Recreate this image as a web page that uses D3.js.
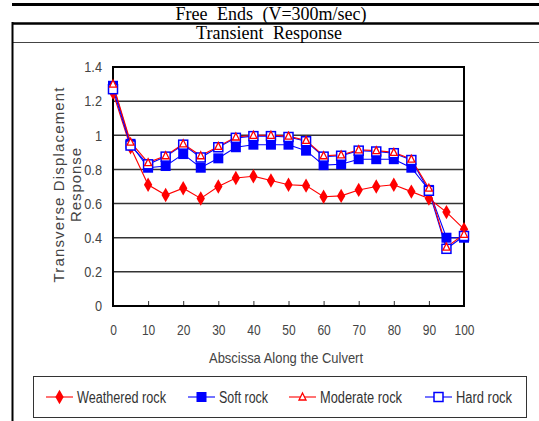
<!DOCTYPE html>
<html>
<head>
<meta charset="utf-8">
<script src="https://cdn.jsdelivr.net/npm/d3@7"></script>
<style>
  body { margin: 0; background: #fff; }
  svg { display: block; }
</style>
</head>
<body>
<div id="chart"></div>
<script>
// abscissa along the culvert
const xs = [0, 5, 10, 15, 20, 25, 30, 35, 40, 45, 50, 55, 60, 65, 70, 75, 80, 85, 90, 95, 100];

const weathered = [1.25, 0.93, 0.71, 0.65, 0.69, 0.63, 0.70, 0.75, 0.76, 0.735, 0.71, 0.705, 0.64, 0.645, 0.68, 0.70, 0.71, 0.67, 0.63, 0.55, 0.45];
const soft      = [1.29, 0.95, 0.81, 0.82, 0.89, 0.81, 0.865, 0.93, 0.945, 0.945, 0.945, 0.91, 0.825, 0.83, 0.86, 0.86, 0.86, 0.81, 0.68, 0.40, 0.40];
const moderate  = [1.30, 0.96, 0.84, 0.88, 0.95, 0.88, 0.935, 0.99, 1.00, 1.00, 0.995, 0.97, 0.88, 0.885, 0.915, 0.91, 0.90, 0.86, 0.69, 0.345, 0.42];
const hard      = [1.27, 0.94, 0.83, 0.875, 0.945, 0.87, 0.93, 0.985, 0.995, 0.995, 0.99, 0.965, 0.875, 0.88, 0.91, 0.905, 0.895, 0.855, 0.675, 0.335, 0.41];

const xTicks = [0, 10, 20, 30, 40, 50, 60, 70, 80, 90, 100];
const yTicks = [0, 0.2, 0.4, 0.6, 0.8, 1, 1.2, 1.4];

const seriesNames = ["Weathered rock", "Soft rock", "Moderate rock", "Hard rock"];

const W = 539, H = 421;
const sansFont = "'Liberation Sans', Arial, sans-serif";
const serifFont = "'Liberation Serif', 'Times New Roman', serif";

// squeeze text horizontally a bit, the original font is a narrow one
const narrow = (sel, k) => sel.each(function () {
    const w = this.getComputedTextLength();
    d3.select(this).attr("textLength", w * k).attr("lengthAdjust", "spacingAndGlyphs");
});

const svg = d3.select("#chart").append("svg")
    .attr("width", W)
    .attr("height", H);

// table frame
svg.append("line").attr("x1", 12).attr("x2", W).attr("y1", 4.5).attr("y2", 4.5)
    .attr("stroke", "#000").attr("stroke-width", 3);
svg.append("line").attr("x1", 12).attr("x2", W).attr("y1", 23.5).attr("y2", 23.5)
    .attr("stroke", "#000").attr("stroke-width", 2.5);
svg.append("line").attr("x1", 12).attr("x2", W).attr("y1", 42.5).attr("y2", 42.5)
    .attr("stroke", "#444").attr("stroke-width", 1.2);
svg.append("line").attr("x1", 12.5).attr("x2", 12.5).attr("y1", 22).attr("y2", H)
    .attr("stroke", "#000").attr("stroke-width", 2);

svg.append("text")
    .attr("x", 271).attr("y", 20)
    .attr("text-anchor", "middle")
    .style("font-family", serifFont)
    .style("font-size", "18px")
    .style("word-spacing", "5px")
    .text("Free Ends (V=300m/sec)");

svg.append("text")
    .attr("x", 269).attr("y", 38.5)
    .attr("text-anchor", "middle")
    .style("font-family", serifFont)
    .style("font-size", "18px")
    .style("word-spacing", "5px")
    .text("Transient Response");

// plot area
const plotL = 113, plotR = 464, plotT = 67, plotB = 306;

const x = d3.scaleLinear().domain([0, 100]).range([plotL, plotR]);
const y = d3.scaleLinear().domain([0, 1.4]).range([plotB, plotT]);

// gridlines
svg.append("g")
    .selectAll("line")
    .data(yTicks.filter(d => d > 0 && d < 1.4))
    .enter().append("line")
    .attr("x1", plotL).attr("x2", plotR)
    .attr("y1", d => y(d)).attr("y2", d => y(d))
    .attr("stroke", "#333")
    .attr("stroke-width", 1.5);

// axes
const xAxis = d3.axisBottom(x)
    .tickValues(xTicks)
    .tickSize(-5)
    .tickPadding(18)
    .tickFormat(d3.format("d"));

const gx = svg.append("g")
    .attr("transform", `translate(0,${plotB})`)
    .call(xAxis);
gx.select(".domain").remove();
gx.selectAll(".tick line").attr("stroke", "#333");
gx.selectAll(".tick text")
    .style("font-family", sansFont)
    .style("font-size", "15px")
    .attr("fill", "#444")
    .call(narrow, 0.8);

const yAxis = d3.axisLeft(y)
    .tickValues(yTicks)
    .tickSize(0)
    .tickPadding(11)
    .tickFormat(d => d3.format("")(d));

const gy = svg.append("g")
    .attr("transform", `translate(${plotL},0)`)
    .call(yAxis);
gy.select(".domain").remove();
gy.selectAll(".tick text")
    .style("font-family", sansFont)
    .style("font-size", "15px")
    .attr("fill", "#444")
    .call(narrow, 0.85);

// border
svg.append("rect")
    .attr("x", plotL).attr("y", plotT)
    .attr("width", plotR - plotL).attr("height", plotB - plotT)
    .attr("fill", "none")
    .attr("stroke", "#000")
    .attr("stroke-width", 2);

// axis titles
svg.append("text")
    .attr("transform", "translate(64,185) rotate(-90)")
    .attr("text-anchor", "middle")
    .style("font-family", sansFont)
    .style("font-size", "15px")
    .attr("fill", "#444")
    .attr("textLength", 195)
    .attr("lengthAdjust", "spacing")
    .text("Transverse Displacement");

svg.append("text")
    .attr("transform", "translate(81,185) rotate(-90)")
    .attr("text-anchor", "middle")
    .style("font-family", sansFont)
    .style("font-size", "15px")
    .attr("fill", "#444")
    .attr("textLength", 74)
    .attr("lengthAdjust", "spacing")
    .text("Response");

svg.append("text")
    .attr("x", 286).attr("y", 363)
    .attr("text-anchor", "middle")
    .style("font-family", sansFont)
    .style("font-size", "15px")
    .attr("fill", "#444")
    .attr("textLength", 154)
    .attr("lengthAdjust", "spacingAndGlyphs")
    .text("Abscissa Along the Culvert");

// series
const line = d3.line()
    .x((d, i) => x(xs[i]))
    .y(d => y(d));

const series = [
    { name: seriesNames[0], values: weathered, color: "#ff0000", marker: "diamond" },
    { name: seriesNames[1], values: soft, color: "#0000ff", marker: "square" },
    { name: seriesNames[3], values: hard, color: "#0000ff", marker: "squareOpen" },
    { name: seriesNames[2], values: moderate, color: "#ff0000", marker: "triangle" }
];

const drawMarker = (g, type, color, cx, cy) => {
    if (type === "diamond") {
        g.append("path")
            .attr("d", d3.symbol().type(d3.symbolDiamond).size(60)())
            .attr("transform", `translate(${cx},${cy})`)
            .attr("fill", color);
    } else if (type === "square") {
        g.append("rect")
            .attr("x", cx - 5).attr("y", cy - 5)
            .attr("width", 10).attr("height", 10)
            .attr("fill", color);
    } else if (type === "squareOpen") {
        g.append("rect")
            .attr("x", cx - 4.5).attr("y", cy - 4.5)
            .attr("width", 9).attr("height", 9)
            .attr("fill", "#fff")
            .attr("stroke", color)
            .attr("stroke-width", 1.5);
    } else if (type === "triangle") {
        g.append("path")
            .attr("d", `M${cx},${cy - 4}L${cx + 3.5},${cy + 3}L${cx - 3.5},${cy + 3}Z`)
            .attr("fill", "#fff")
            .attr("stroke", color)
            .attr("stroke-width", 1.3);
    }
};

series.forEach(s => {
    svg.append("path")
        .datum(s.values)
        .attr("d", line)
        .attr("fill", "none")
        .attr("stroke", s.color)
        .attr("stroke-width", 1.1);
});

series.forEach(s => {
    const g = svg.append("g");
    s.values.forEach((v, i) => drawMarker(g, s.marker, s.color, x(xs[i]), y(v)));
});

// legend
svg.append("rect")
    .attr("x", 33.5).attr("y", 376.5)
    .attr("width", 493).attr("height", 41)
    .attr("fill", "#fff")
    .attr("stroke", "#333")
    .attr("stroke-width", 1);

const legendItems = [
    { name: seriesNames[0], color: "#ff0000", marker: "diamond", x0: 46, w: 89 },
    { name: seriesNames[1], color: "#0000ff", marker: "square", x0: 188, w: 49 },
    { name: seriesNames[2], color: "#ff0000", marker: "triangle", x0: 289, w: 82 },
    { name: seriesNames[3], color: "#0000ff", marker: "squareOpen", x0: 425, w: 56 }
];

const lg = svg.append("g");
legendItems.forEach(item => {
    const ly = 397;
    lg.append("line")
        .attr("x1", item.x0).attr("x2", item.x0 + 27)
        .attr("y1", ly).attr("y2", ly)
        .attr("stroke", item.color)
        .attr("stroke-width", 1.1);
    drawMarker(lg, item.marker, item.color, item.x0 + 13.5, ly);
    lg.append("text")
        .attr("x", item.x0 + 31).attr("y", ly + 5.5)
        .style("font-family", sansFont)
        .style("font-size", "16px")
        .attr("fill", "#333")
        .attr("textLength", item.w)
        .attr("lengthAdjust", "spacingAndGlyphs")
        .text(item.name);
});
</script>
</body>
</html>
